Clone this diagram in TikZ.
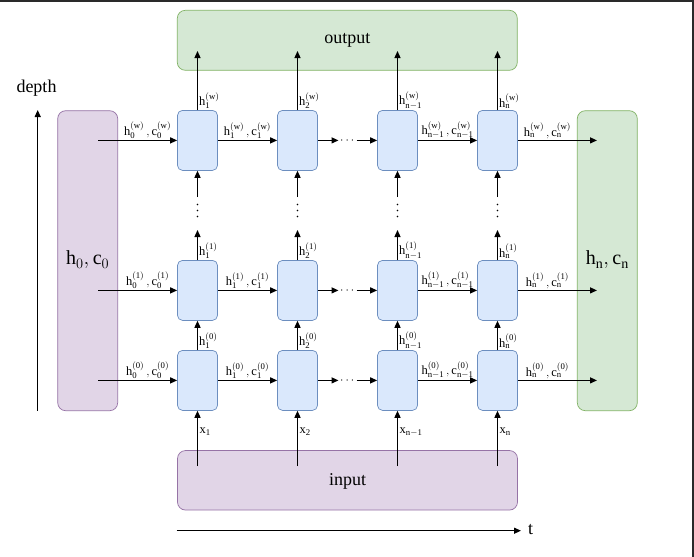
\documentclass[tikz,border=0pt]{standalone}
\usepackage{fontspec}
\setmainfont{Liberation Serif}
\usetikzlibrary{arrows.meta}
\definecolor{cellfill}{HTML}{DAE8FC}
\definecolor{cellline}{HTML}{6C8EBF}
\definecolor{purfill}{HTML}{E1D5E7}
\definecolor{purline}{HTML}{9673A6}
\definecolor{grnfill}{HTML}{D5E8D4}
\definecolor{grnline}{HTML}{82B366}
\definecolor{framecol}{HTML}{2A2A2A}
\newcommand\hlab[2]{$\mathrm{h}^{(\mathrm{#2})}_{\mathrm{#1}}$}
\newcommand\hclab[2]{$\mathrm{h}^{(\mathrm{#2})}_{\mathrm{#1}}\,,\mathrm{c}^{(\mathrm{#2})}_{\mathrm{#1}}$}
\tikzset{
  cell/.style={draw=cellline, fill=cellfill, rounded corners=5pt, minimum width=40pt, minimum height=60pt, inner sep=0pt, line width=0.7pt},
  purbox/.style={draw=purline, fill=purfill, rounded corners=8pt, inner sep=0pt, line width=0.7pt},
  grnbox/.style={draw=grnline, fill=grnfill, rounded corners=8pt, inner sep=0pt, line width=0.7pt},
  arr/.style={-{Triangle[length=7pt,width=6pt]}, line width=1.2pt},
  lab/.style={font=\fontsize{12.5}{13}\selectfont, inner sep=1pt},
  big/.style={font=\fontsize{18}{20}\selectfont, inner sep=0pt},
  dotsnode/.style={font=\fontsize{13}{14}\selectfont, inner sep=0pt},
  vdot/.style={fill=black, circle, inner sep=0pt, minimum size=1.8pt}
}
\begin{document}
\begin{tikzpicture}[x=1pt,y=-1pt]
\useasboundingbox (0,0) rectangle (694,557);
\fill[white] (0,0) rectangle (694,557);
\draw[framecol, line width=2pt] (0,1) -- (692.5,1) -- (692.5,557);

% big boxes
\node[grnbox, minimum width=340pt, minimum height=60pt] (out) at (347.3,40.3) {};
\node[big] (outtxt) at (347.3,40) {output};
\node[purbox, minimum width=340pt, minimum height=59.5pt] (in) at (347.5,480.3) {};
\node[big] (intxt) at (347.5,481) {input};
\node[purbox, minimum width=60pt, minimum height=300pt] (left) at (87.7,260.7) {};
\node[font=\fontsize{20}{22}\selectfont] (lefttxt) at (87.7,260) {$\mathrm{h}_0,\mathrm{c}_0$};
\node[grnbox, minimum width=60pt, minimum height=300pt] (right) at (607.3,260.7) {};
\node[font=\fontsize{20}{22}\selectfont] (righttxt) at (607.3,260) {$\mathrm{h}_\mathrm{n},\mathrm{c}_\mathrm{n}$};

% cells
\foreach \c/\x in {1/197.5,2/297.5,3/397.5,4/497.5}{
  \node[cell] (c\c w) at (\x,140.4) {};
  \node[cell] (c\c a) at (\x,290.4) {};
  \node[cell] (c\c b) at (\x,380.4) {};
  \coordinate (o\c) at (\x,51);
  \coordinate (i\c) at (\x,466);
  \coordinate (u\c) at (\x,197);
  \coordinate (v\c) at (\x,230);
  \node[vdot] (vda\c) at (\x,204.5) {};
  \node[vdot] (vdb\c) at (\x,210.5) {};
  \node[vdot] (vdc\c) at (\x,216.5) {};
}

% horizontal rows
\foreach \r/\y/\s in {w/140.4/w,a/290.4/1,b/380.4/0}{
  \coordinate (s\r) at (98,\y);
  \coordinate (e\r) at (597,\y);
  \coordinate (p\r) at (338.5,\y);
  \coordinate (q\r) at (356.5,\y);
  \node[dotsnode, anchor=base] (hd\r) at (347.2,\y+3.3) {$\cdots$};
  \draw[arr] (s\r) -- (c1\r);
  \draw[arr] (c1\r) -- (c2\r);
  \draw[arr] (c2\r) -- (p\r);
  \draw[arr] (q\r) -- (c3\r);
  \draw[arr] (c3\r) -- (c4\r);
  \draw[arr] (c4\r) -- (e\r);
  \node[lab, anchor=south] at (147.6,\y-0.5) {\hclab{0}{\s}};
  \node[lab, anchor=south] at (247.5,\y-0.5) {\hclab{1}{\s}};
  \node[lab, anchor=south] at (447.5,\y-0.5) {\hclab{n-1}{\s}};
  \node[lab, anchor=south] at (547.4,\y-0.5) {\hclab{n}{\s}};
}

% vertical arrows
\foreach \c in {1,2,3,4}{
  \draw[arr] (c\c w) -- (o\c);
  \draw[arr] (u\c) -- (c\c w);
  \draw[arr] (c\c a) -- (v\c);
  \draw[arr] (c\c b) -- (c\c a);
  \draw[arr] (i\c) -- (c\c b);
}

% vertical labels
\foreach \c/\k in {1/1,2/2,3/n-1,4/n}{
  \node[lab, anchor=south west] at ([xshift=0.5pt]c\c w.north) {\hlab{\k}{w}};
  \node[lab, anchor=south west] at ([xshift=0.5pt]c\c a.north) {\hlab{\k}{1}};
  \node[lab, anchor=south west] at ([xshift=0.5pt]c\c b.north) {\hlab{\k}{0}};
  \node[lab, anchor=west] at ([xshift=1pt]i\c |- 0,432) {$\mathrm{x}_{\mathrm{\k}}$};
}

% axes
\coordinate (d0) at (37.7,410.7);
\coordinate (d1) at (37.7,110);
\draw[arr] (d0) -- (d1);
\node[big] (depthlab) at (36.5,88) {depth};
\coordinate (t0) at (176.7,530.7);
\coordinate (t1) at (521,530.7);
\draw[arr] (t0) -- (t1);
\node[big] (tlab) at (530.5,529.5) {t};
\end{tikzpicture}
\end{document}
